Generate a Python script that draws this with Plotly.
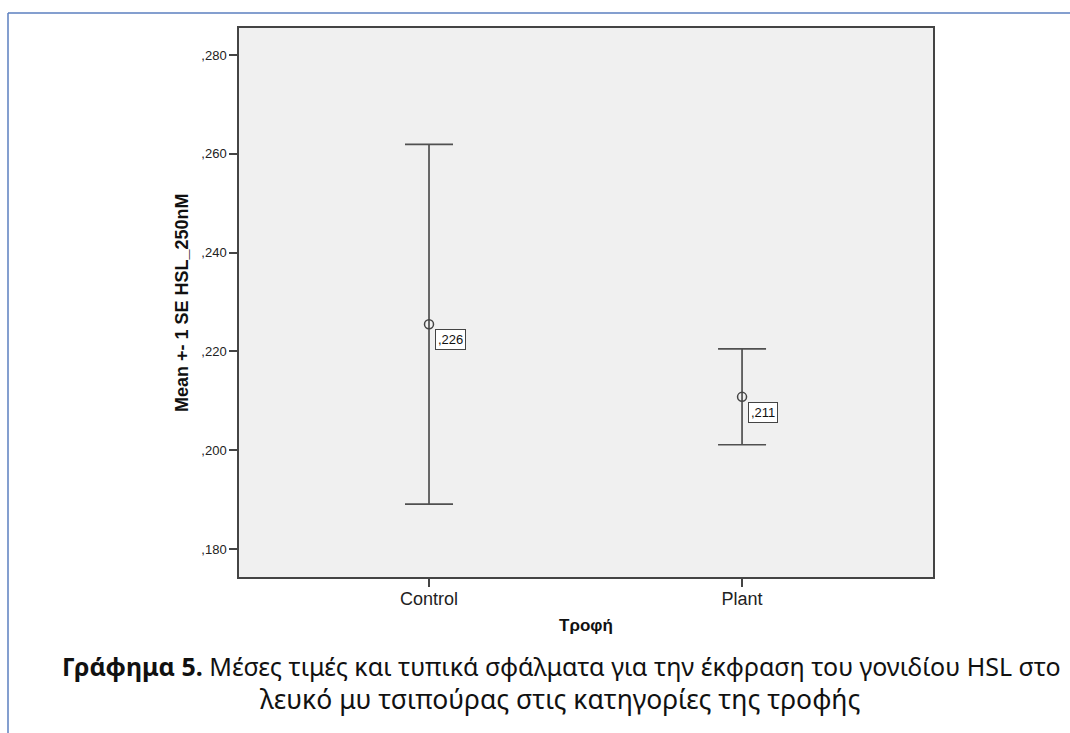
import plotly.graph_objects as go

categories = ["Control", "Plant"]
means = [0.2255, 0.2108]
se = [0.0364, 0.0097]
value_labels = [",226", ",211"]
y_tick_vals = [0.18, 0.20, 0.22, 0.24, 0.26, 0.28]
y_tick_text = [",180", ",200", ",220", ",240", ",260", ",280"]
x_title = "Τροφή"
y_title = "Mean +- 1 SE HSL_250nM"
caption_line1 = "<b>Γράφημα 5.</b> Μέσες τιμές και τυπικά σφάλματα για την έκφραση του γονιδίου HSL στο"
caption_line2 = "λευκό μυ τσιπούρας στις κατηγορίες της τροφής"

W, H = 1070, 733
L, R, T, B = 239, 933, 28, 577
pw, ph = R - L, B - T

def px(xp):
    return (xp - L) / pw

def py(yp):
    return (B - yp) / ph

xs = list(range(len(categories)))

fig = go.Figure()
fig.add_trace(go.Scatter(
    x=xs, y=means, mode="markers",
    marker=dict(symbol="circle-open", size=9, color="#444444", line=dict(width=1.5)),
    error_y=dict(type="data", array=se, visible=True, color="#505050", thickness=1.7, width=24),
    showlegend=False, hoverinfo="skip",
))

for x, m, lab in zip(xs, means, value_labels):
    fig.add_annotation(
        x=x, y=m, xref="x", yref="y", text=lab, showarrow=False,
        xanchor="left", yanchor="top", xshift=6, yshift=-5,
        font=dict(family="Arial", size=13, color="#111111"),
        bgcolor="white", bordercolor="#444444", borderwidth=1, borderpad=2,
    )

fig.add_annotation(x=0.5, y=py(625), xref="paper", yref="paper", text="<b>" + x_title + "</b>",
                   showarrow=False, xanchor="center", yanchor="middle",
                   font=dict(family="Arial", size=17, color="#111111"))
fig.add_annotation(x=px(182), y=py(303), xref="paper", yref="paper", text="<b>" + y_title + "</b>",
                   showarrow=False, textangle=-90, xanchor="center", yanchor="middle",
                   font=dict(family="Arial", size=18, color="#111111"))
fig.add_annotation(x=px(561), y=py(666), xref="paper", yref="paper", text=caption_line1,
                   showarrow=False, xanchor="center", yanchor="middle",
                   font=dict(family="Noto Sans", size=25, color="#111111"))
fig.add_annotation(x=px(560), y=py(699), xref="paper", yref="paper", text=caption_line2,
                   showarrow=False, xanchor="center", yanchor="middle",
                   font=dict(family="Noto Sans", size=26.5, color="#111111"))

# Document frame (blue)
fig.add_shape(type="line", xref="paper", yref="paper", x0=px(8), x1=px(8), y0=py(13), y1=py(740),
              line=dict(color="#5b7fbf", width=1.5))
fig.add_shape(type="line", xref="paper", yref="paper", x0=px(8), x1=px(1075), y0=py(13), y1=py(13),
              line=dict(color="#5b7fbf", width=1.5))

fig.update_layout(
    width=W, height=H,
    margin=dict(l=L, r=W - R, t=T, b=H - B),
    paper_bgcolor="white", plot_bgcolor="#f0f0f0",
    xaxis=dict(range=[-0.607, 1.61], tickvals=xs, ticktext=categories, showgrid=False, zeroline=False,
               showline=True, linecolor="#444444", linewidth=1.5, mirror=True,
               ticks="outside", ticklen=8, tickcolor="#444444", tickwidth=1.5, ticklabelstandoff=-3,
               tickfont=dict(family="Arial", size=18, color="#222222")),
    yaxis=dict(range=[0.17433, 0.28547], tickvals=y_tick_vals, ticktext=y_tick_text, showgrid=False,
               zeroline=False, showline=True, linecolor="#444444", linewidth=1.5, mirror=True,
               ticks="outside", ticklen=8, tickcolor="#444444", tickwidth=1.5,
               tickfont=dict(family="Arial", size=13, color="#222222")),
)

fig.write_html("out.html")
